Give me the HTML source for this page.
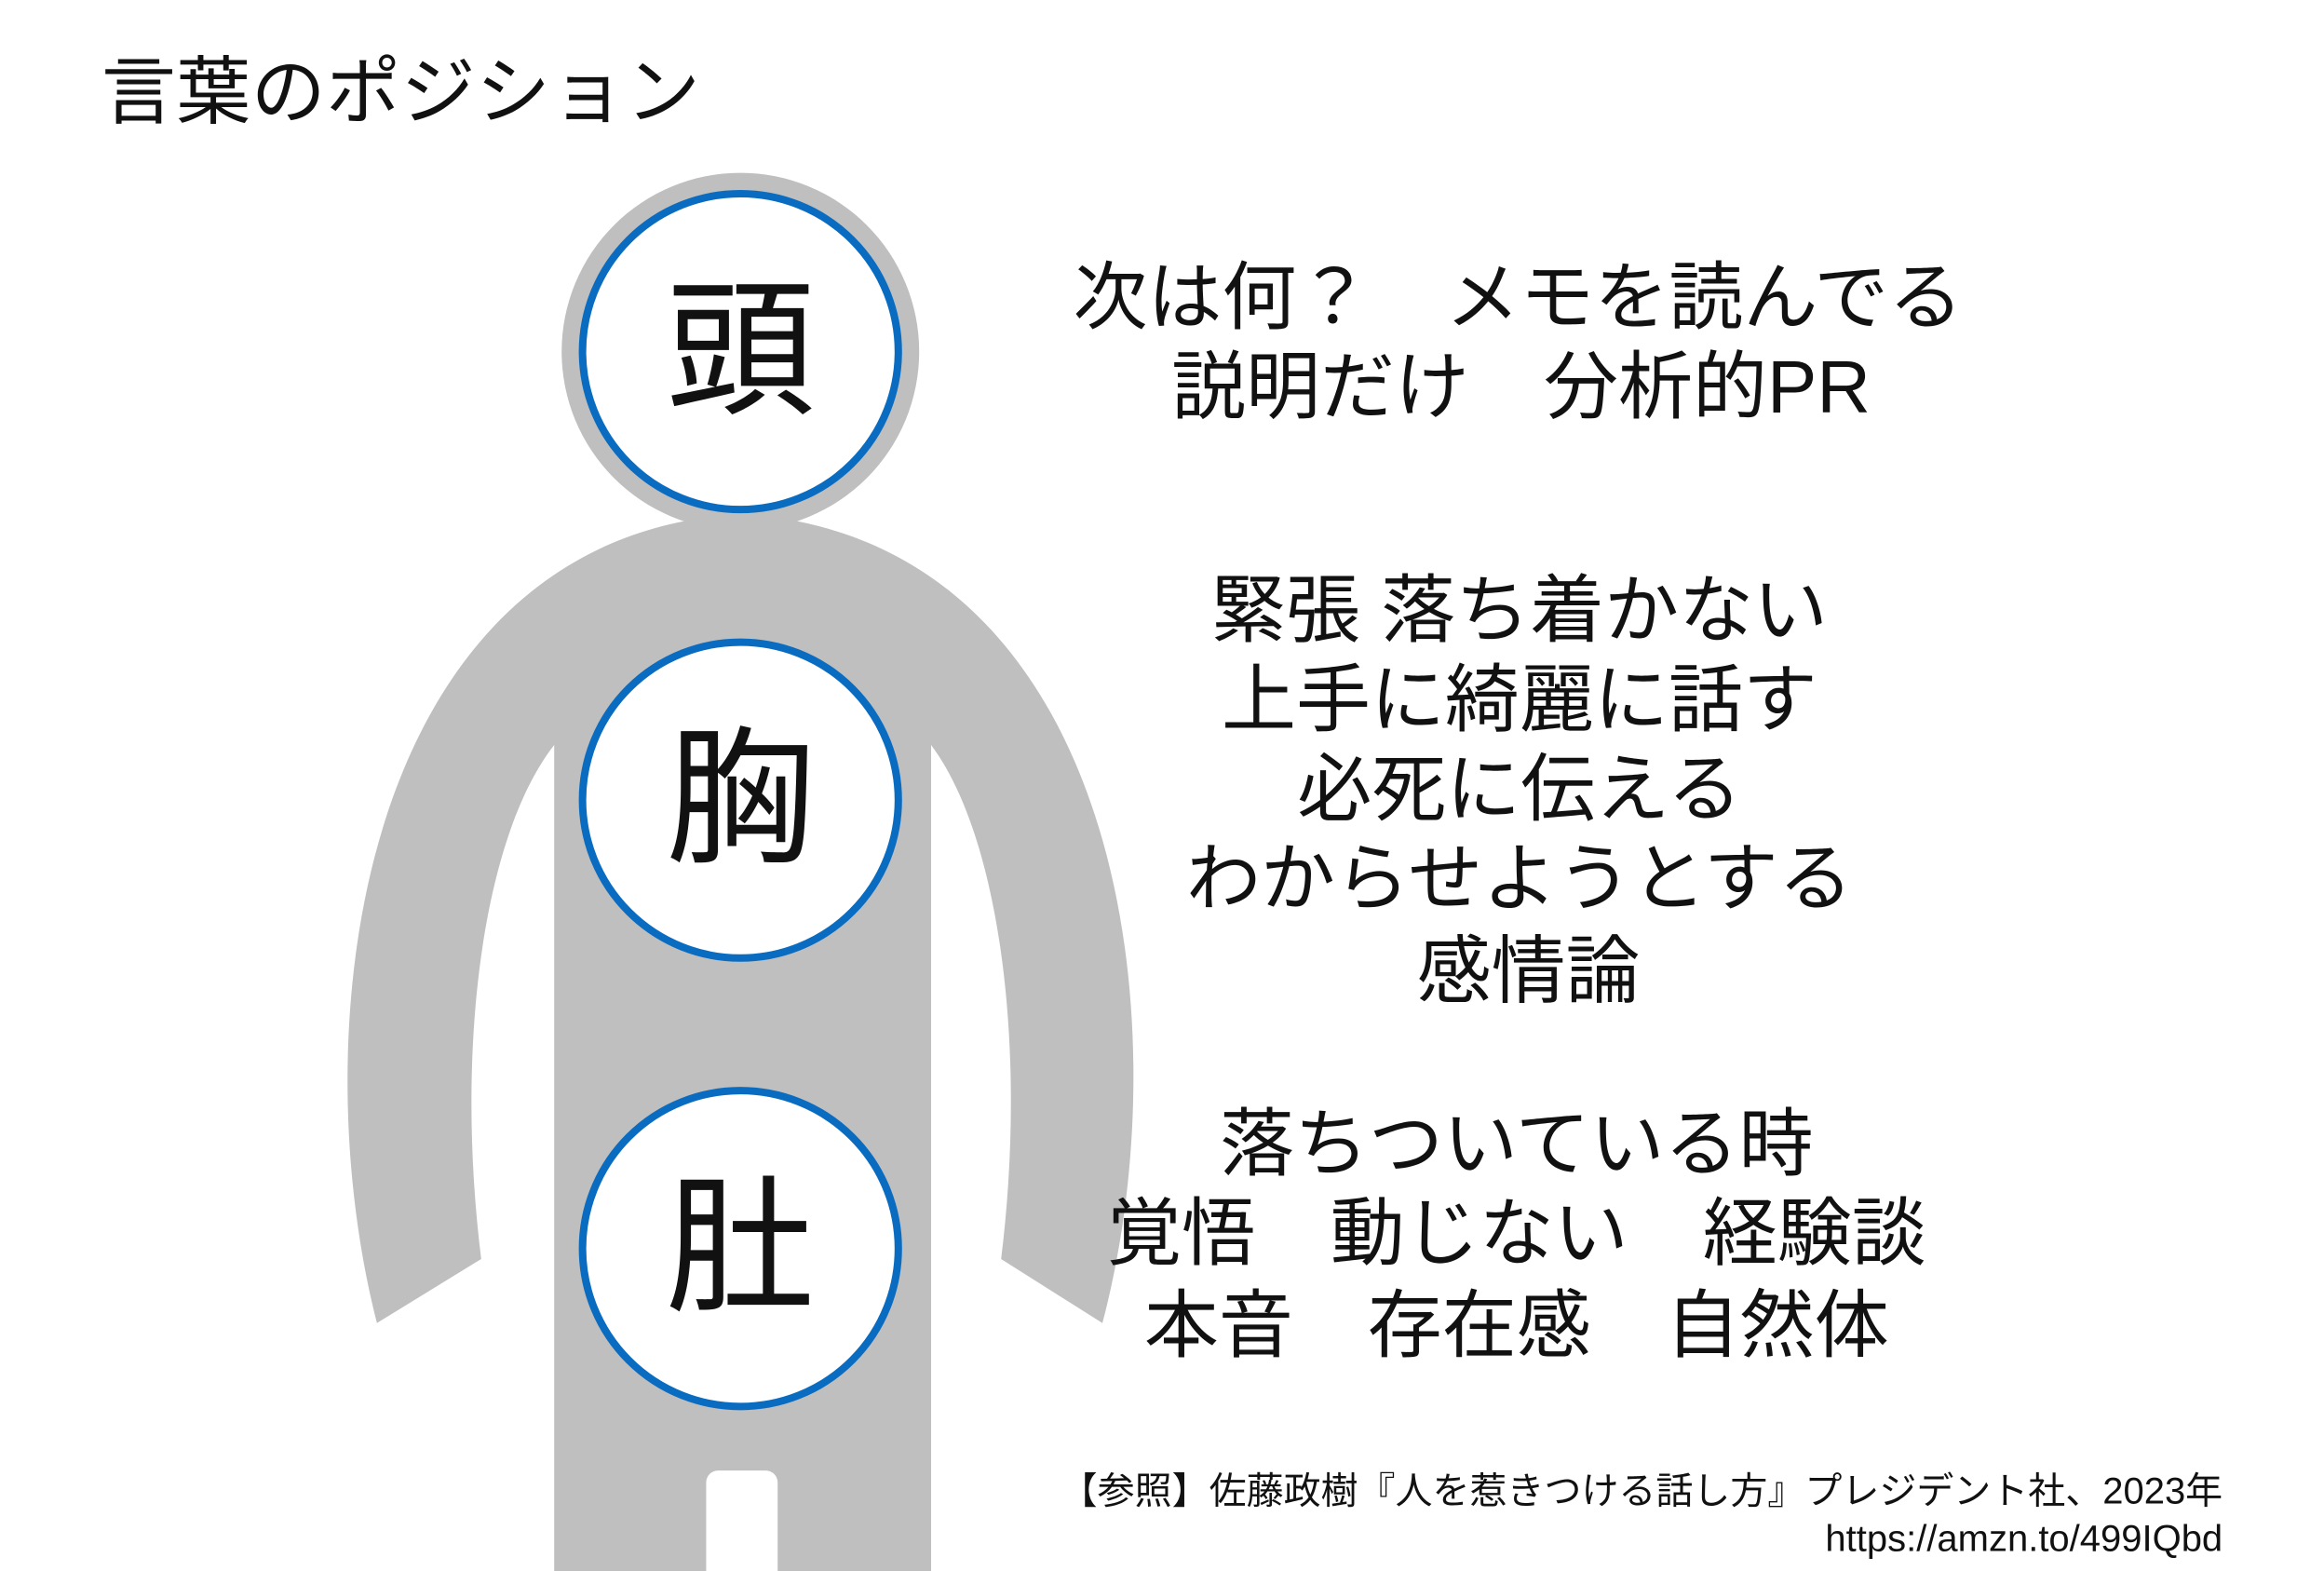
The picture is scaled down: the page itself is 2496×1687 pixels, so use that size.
<!DOCTYPE html>
<html><head><meta charset="utf-8"><style>
html,body{margin:0;padding:0;background:#fff;}
svg{display:block;}
text{font-family:"Liberation Sans","Noto Sans CJK JP",sans-serif;fill:#111;}
</style></head><body>
<svg width="2496" height="1687" viewBox="0 0 1560 1054.4" xmlns="http://www.w3.org/2000/svg">
<rect width="1560" height="1054.4" fill="#fff"/>
<text x="68" y="79" font-size="50" textLength="402">言葉のポジション</text>
<path d="M253,888 C200,680 245,360 497,345 C750,360 795,680 740,888 L672,845 C690,700 670,560 625,500 L625,1055 L372,1055 L372,500 C325,560 305,700 323,845 Z" fill="#bfbfbf"/>
<rect x="474" y="987" width="48" height="80" rx="8" fill="#fff"/>
<circle cx="497" cy="236" r="120" fill="#bfbfbf"/>
<g fill="#fff" stroke="#0a6cc0" stroke-width="5">
<circle cx="497" cy="236" r="106"/>
<circle cx="497" cy="537" r="106"/>
<circle cx="497" cy="838" r="106"/>
</g>
<g font-size="100" text-anchor="middle">
<text x="497" y="270">頭</text>
<text x="497" y="571">胸</text>
<text x="497" y="872">肚</text>
</g>
<g font-size="50" text-anchor="middle">
<text x="1019" y="217">次は何？　メモを読んでる</text>
<text x="1021" y="277">説明だけ　分析的PR</text>
<text x="1020" y="427">緊張 落ち着かない</text>
<text x="1020" y="487">上手に綺麗に話す</text>
<text x="1020" y="547">必死に伝える</text>
<text x="1020" y="607">わからせようとする</text>
<text x="1026" y="669">感情論</text>
<text x="1018" y="785">落ちついている時</text>
<text x="1018" y="845">覚悟　動じない　経験談</text>
<text x="1018" y="907">本音　存在感　自然体</text>
</g>
<g font-size="25" text-anchor="end">
<text x="1492" y="1009">【参照】佐藤政樹『人を惹きつける話し方』プレジデント社、2023年</text>
<text x="1492" y="1041">https://amzn.to/499IQbd</text>
</g>
</svg>
</body></html>
